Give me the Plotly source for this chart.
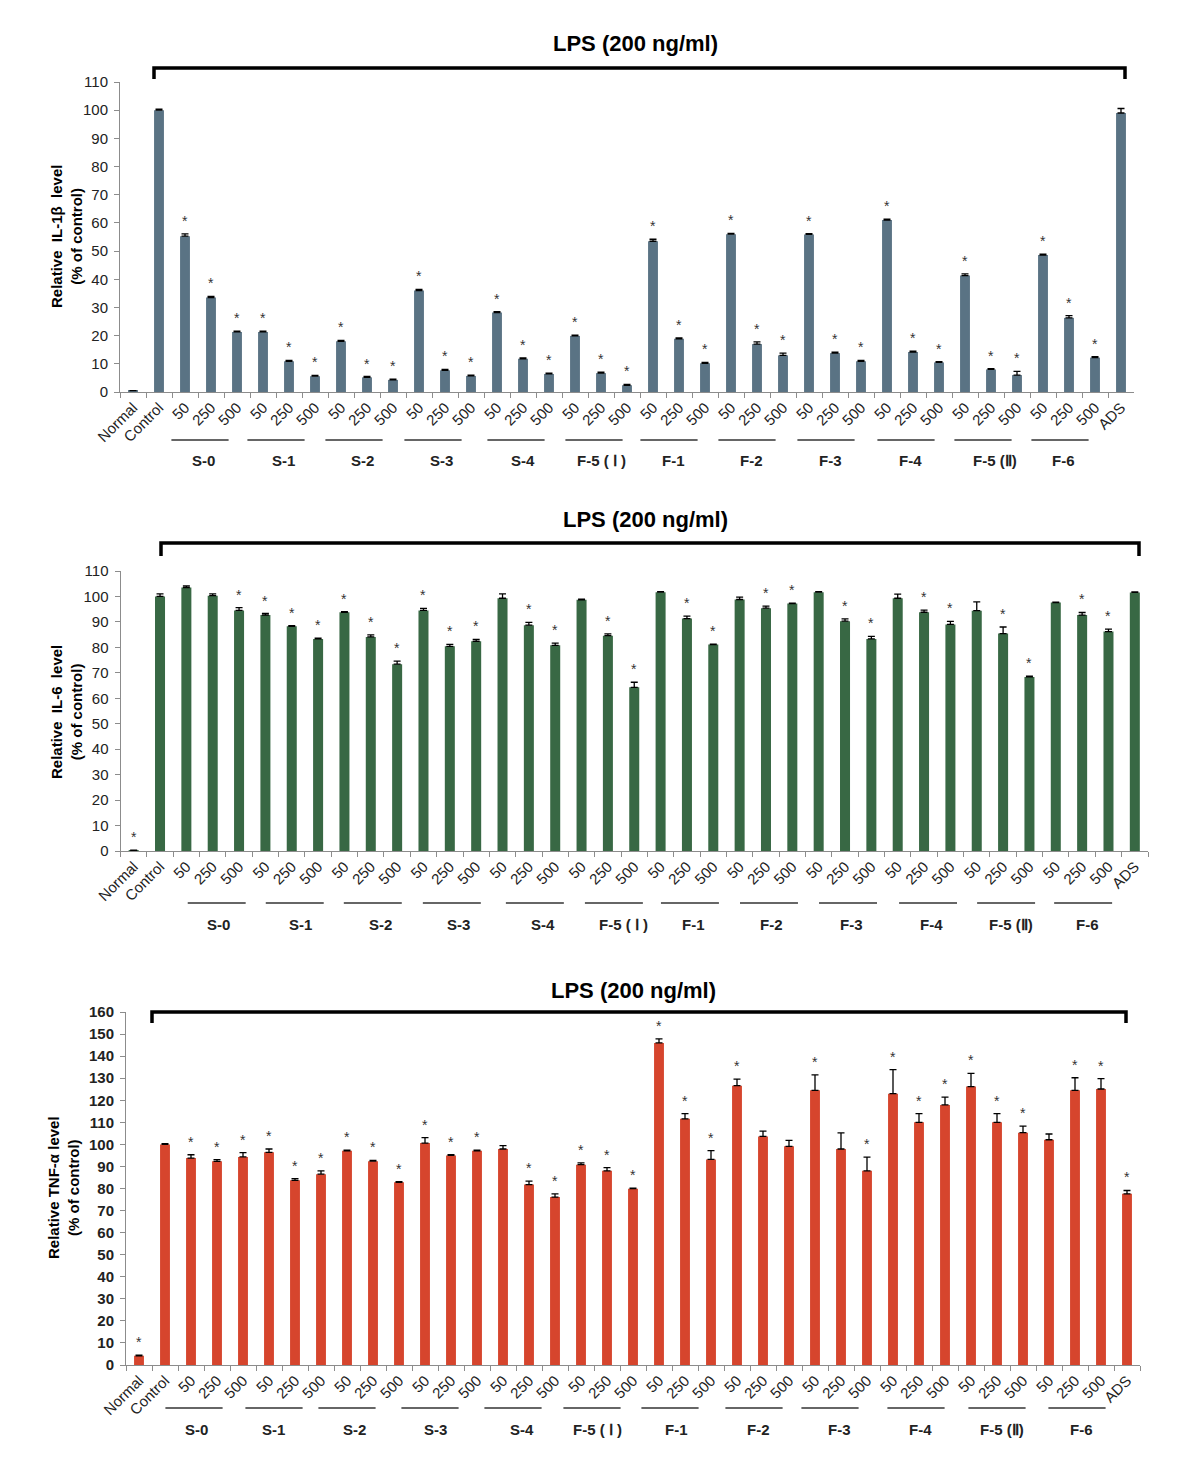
import plotly.graph_objects as go

W, H = 1204, 1480

# ---------------- data ----------------
groups = ["S-0", "S-1", "S-2", "S-3", "S-4", "F-5 ( Ⅰ )", "F-1", "F-2", "F-3", "F-4", "F-5 (Ⅱ)", "F-6"]
doses = ["50", "250", "500"]
cats = ["Normal", "Control"] + [f"{g} {d}" for g in groups for d in doses] + ["ADS"]
tick_labels = ["Normal", "Control"] + doses * len(groups) + ["ADS"]

il1b = [0.5, 100,
        55.3, 33.5, 21.3,
        21.3, 10.9, 5.6,
        18.0, 5.2, 4.3,
        36.0, 7.7, 5.7,
        28.2, 11.8, 6.4,
        19.9, 6.7, 2.4,
        53.5, 18.9, 10.2,
        56.0, 17.0, 13.0,
        55.9, 13.8, 10.9,
        61.0, 14.2, 10.5,
        41.3, 8.0, 6.0,
        48.6, 26.3, 12.2,
        99.0]
il1b_err = [0, 0.4,
            0.8, 0.4, 0.3,
            0.3, 0.3, 0.3,
            0.3, 0.3, 0.3,
            0.4, 0.3, 0.3,
            0.3, 0.3, 0.3,
            0.3, 0.3, 0.3,
            0.7, 0.3, 0.3,
            0.3, 0.8, 0.8,
            0.3, 0.3, 0.3,
            0.3, 0.3, 0.3,
            0.6, 0.3, 1.3,
            0.3, 0.8, 0.3,
            1.6]
il1b_sig = [0, 0] + [1] * 36 + [0]

il6 = [0.3, 100,
       103.5, 100.3, 94.5,
       92.7, 88.3, 83.3,
       93.8, 84.1, 73.4,
       94.5, 80.4, 82.4,
       99.3, 88.7, 80.8,
       98.7, 84.6, 64.3,
       101.7, 91.3, 81.1,
       98.8, 95.4, 97.2,
       101.7, 90.3, 83.3,
       99.3, 93.8, 89.0,
       94.4, 85.4, 68.4,
       97.6, 92.7, 86.2,
       101.6]
il6_err = [0, 1.0,
           0.6, 0.7, 1.1,
           0.6, 0.2, 0.3,
           0.2, 0.8, 1.2,
           0.8, 0.8, 0.7,
           1.7, 1.1, 0.9,
           0.2, 0.7, 2.0,
           0.2, 1.0, 0.2,
           0.9, 0.8, 0.2,
           0.2, 0.9, 1.0,
           1.6, 0.8, 1.2,
           3.5, 2.6, 0.3,
           0.2, 1.0, 1.0,
           0.2]
il6_sig = [1, 0, 0, 0, 1, 1, 1, 1, 1, 1, 1, 1, 1, 1, 0, 1, 1, 0, 1, 1,
           0, 1, 1, 0, 1, 1, 0, 1, 1, 0, 1, 1, 0, 1, 1, 0, 1, 1, 0]

tnf = [4.2, 100,
       93.8, 92.3, 94.3,
       96.4, 83.7, 86.5,
       97.1, 92.4, 82.8,
       100.6, 95.0, 97.1,
       97.9, 81.8, 76.1,
       90.8, 88.0, 79.9,
       146.0, 111.6, 93.2,
       126.6, 103.6, 99.1,
       124.5, 97.9, 88.0,
       123.0, 110.0, 117.9,
       126.2, 110.0, 105.3,
       102.1, 124.5, 125.1,
       77.6]
tnf_err = [0.3, 0.3,
           1.5, 0.8, 2.0,
           1.5, 0.8, 1.5,
           0.3, 0.3, 0.3,
           2.5, 0.3, 0.3,
           1.5, 1.5, 1.5,
           0.8, 1.5, 0.3,
           1.8, 2.3, 4.0,
           3.0, 2.4, 2.7,
           7.0, 7.3, 6.2,
           10.9, 3.9, 3.5,
           6.0, 3.9, 3.0,
           2.6, 5.7, 4.7,
           1.5]
tnf_sig = [1, 0, 1, 1, 1, 1, 1, 1, 1, 1, 1, 1, 1, 1, 0, 1, 1, 1, 1, 1,
           1, 1, 1, 1, 0, 0, 1, 0, 1, 1, 1, 1, 1, 1, 1, 0, 1, 1, 1]

title_text = "LPS (200 ng/ml)"

# ---------------- layout (pixel geometry) ----------------
panels = [
    dict(vals=il1b, err=il1b_err, sig=il1b_sig, color="#5a7384",
         ytitle="Relative  IL-1β  level<br>(% of control)", ymax=110,
         x0=120, x1=1134, y0=392, ytop=82, ybold=False,
         title_xy=(635, 43), bracket=(154, 1125, 68, 79),
         line_y=440, label_y=460, ytitle_xy=(66, 237),
         lab_shift=[-8, -6, -5, -4, 0, 0, -6, -6, -5, -3, 4, -6],
         line_shift=[-11, -13, -13, -12, -7, -7, -10, -10, -9, -7, -8, -9]),
    dict(vals=il6, err=il6_err, sig=il6_sig, color="#386844",
         ytitle="Relative  IL-6  level<br>(% of control)", ymax=110,
         x0=120.5, x1=1148, y0=851, ytop=571, ybold=False,
         title_xy=(645, 519), bracket=(161, 1139, 543, 556),
         line_y=903, label_y=924, ytitle_xy=(66, 712),
         lab_shift=[6, 9, 10, 9, 14, 16, 7, 6, 6, 7, 8, 5],
         line_shift=[4, 3, 2, 2, 6, 6, 3, 3, 3, 4, 3, 1]),
    dict(vals=tnf, err=tnf_err, sig=tnf_sig, color="#d6452d",
         ytitle="Relative TNF-α level<br>(% of control)", ymax=160,
         x0=126, x1=1140, y0=1365, ytop=1012, ybold=True,
         title_xy=(633, 990), bracket=(152, 1126, 1012, 1023),
         line_y=1408, label_y=1429, ytitle_xy=(63, 1188),
         lab_shift=[-21, -22, -19, -16, -7, -10, -9, -5, -2, 1, 5, 6],
         line_shift=[-23, -21, -26, -21, -16, -15, -15, -9, -11, -3, 0, 2]),
]

FONT = "Liberation Sans, Arial, sans-serif"
OFF = 8  # default page body margin
px = lambda x: (x - OFF) / W
py = lambda y: 1 - (y - OFF) / H

fig = go.Figure()
annotations = []
shapes = []
layout = dict(template="none", width=W, height=H, margin=dict(l=0, r=0, t=0, b=0, autoexpand=False),
              paper_bgcolor="white", plot_bgcolor="white", showlegend=False,
              bargap=0.62, font=dict(family=FONT, color="#222"))

for i, p in enumerate(panels, start=1):
    xa = "x" if i == 1 else f"x{i}"
    ya = "y" if i == 1 else f"y{i}"
    fig.add_trace(go.Bar(
        x=cats, y=p["vals"], xaxis=xa, yaxis=ya,
        marker=dict(color=p["color"], line=dict(width=0)),
        error_y=dict(type="data", array=p["err"], arrayminus=[0] * len(cats),
                     symmetric=False, color="black", thickness=1.3, width=3.5),
    ))
    # significance stars above error bars
    for c, v, e, s in zip(cats, p["vals"], p["err"], p["sig"]):
        if s:
            annotations.append(dict(text="*", x=c, y=v + e, xref=xa, yref=ya,
                                    showarrow=False, xanchor="center", yanchor="bottom",
                                    yshift=3, font=dict(size=14, color="#333", family=FONT)))
    key = "" if i == 1 else str(i)
    layout["xaxis" + key] = dict(
        domain=[px(p["x0"]), px(p["x1"])], anchor=ya, type="category",
        categoryorder="array", categoryarray=cats, automargin=False,
        tickmode="array", tickvals=cats, ticktext=tick_labels, tickangle=-45,
        tickson="boundaries", ticks="outside", ticklen=5, tickcolor="#8c8c8c",
        showline=True, linecolor="#8c8c8c", linewidth=1, showgrid=False, zeroline=False,
        tickfont=dict(size=15, color="#222", family=FONT),
        range=[-0.5, len(cats) - 0.5],
    )
    yfont = dict(size=15, color="#222", family=FONT,
                 weight="bold" if p["ybold"] else "normal")
    layout["yaxis" + key] = dict(
        domain=[py(p["y0"]), py(p["ytop"])], anchor=xa, range=[0, p["ymax"]],
        dtick=10, tick0=0, ticks="outside", ticklen=5, tickcolor="#8c8c8c",
        showline=True, linecolor="#8c8c8c", linewidth=1, showgrid=False,
        zeroline=False, tickfont=yfont, automargin=False, ticklabelstandoff=3,
    )
    # title
    annotations.append(dict(text=f"<b>{title_text}</b>", x=px(p["title_xy"][0]),
                            y=py(p["title_xy"][1]), xref="paper", yref="paper",
                            showarrow=False, xanchor="center", yanchor="middle",
                            font=dict(size=22, color="black", family=FONT)))
    # y title
    annotations.append(dict(text=f"<b>{p['ytitle']}</b>", x=px(p["ytitle_xy"][0]),
                            y=py(p["ytitle_xy"][1]), xref="paper", yref="paper",
                            showarrow=False, textangle=-90, xanchor="center",
                            yanchor="middle", font=dict(size=15, color="black", family=FONT)))
    # bracket
    bx0, bx1, by, byl = p["bracket"]
    shapes.append(dict(type="path", xref="paper", yref="paper",
                       path=f"M {px(bx0)} {py(byl)} L {px(bx0)} {py(by)} L {px(bx1)} {py(by)} L {px(bx1)} {py(byl)}",
                       line=dict(color="black", width=3.5)))
    # group labels + underlines
    cw = (p["x1"] - p["x0"]) / len(cats)
    for g, name in enumerate(groups):
        mid = 3 + 3 * g
        ls = p["line_shift"][g] / cw
        shapes.append(dict(type="line", xref=xa, yref="paper",
                           x0=mid - 1.1 + ls, x1=mid + 1.1 + ls,
                           y0=py(p["line_y"]), y1=py(p["line_y"]),
                           line=dict(color="#333", width=1.3)))
        annotations.append(dict(text=f"<b>{name}</b>", x=cats[mid], xref=xa,
                                y=py(p["label_y"]), yref="paper", showarrow=False,
                                xanchor="center", yanchor="middle",
                                xshift=p["lab_shift"][g],
                                font=dict(size=15, color="#222", family=FONT)))

layout["annotations"] = annotations
layout["shapes"] = shapes
fig.update_layout(**layout)
fig.write_html("out.html")
